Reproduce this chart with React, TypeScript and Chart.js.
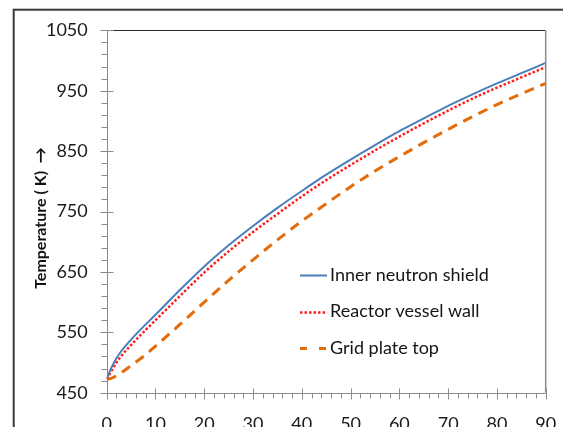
import React, { useEffect, useRef } from "react";
import { Chart, registerables } from "chart.js";

Chart.register(...registerables);

const timeValues = [0, 1, 2, 3, 5, 7.5, 10, 15, 20, 25, 30, 35, 40, 45, 50, 55, 60, 65, 70, 75, 80, 85, 90];
const innerNeutronShield = [473, 492, 507, 519, 538, 559, 579, 620, 659, 694, 726, 756, 784, 811, 836, 860, 883, 904, 925, 944, 962, 979, 996];
const reactorVesselWall = [473, 486, 500, 511, 529, 550, 570, 610, 649, 684, 716, 746, 775, 802, 827, 851, 874, 896, 917, 937, 955, 972, 989];
const gridPlateTop = [472, 474, 478, 483, 495, 510, 527, 563, 600, 636, 670, 703, 734, 763, 791, 817, 841, 864, 886, 907, 927, 945, 962];
const seriesNames = ["Inner neutron shield", "Reactor vessel wall", "Grid plate top"];
const yTickValues = [450, 550, 650, 750, 850, 950, 1050];
const xTickValues = [0, 10, 20, 30, 40, 50, 60, 70, 80, 90];
const yMinorStep = 20;
const xMinorStep = 2;
const yAxisTitle = "Temperature ( K)  \u2192";

const FONT = "Lato, 'Open Sans', sans-serif";

const decorPlugin = {
  id: "decor",
  beforeDraw(chart: any) {
    const { ctx } = chart;
    ctx.save();
    ctx.fillStyle = "#ffffff";
    ctx.fillRect(0, 0, chart.width, chart.height);
    ctx.strokeStyle = "#3a3a3a";
    ctx.lineWidth = 2;
    ctx.strokeRect(13.7, 9.7, chart.width + 40, chart.height + 40);
    ctx.restore();
  },
  beforeDatasetsDraw(chart: any) {
    const { ctx, chartArea: ca, scales } = chart;
    const xs = scales.x;
    const ys = scales.y;
    ctx.save();
    ctx.lineWidth = 1;
    ctx.strokeStyle = "#2a2a2a";
    ctx.beginPath();
    ctx.moveTo(ca.left, Math.round(ca.top) + 0.5);
    ctx.lineTo(ca.right, Math.round(ca.top) + 0.5);
    ctx.stroke();
    ctx.strokeStyle = "#8c8c8c";
    ctx.lineWidth = 1.5;
    ctx.beginPath();
    ctx.moveTo(ca.right, ca.top);
    ctx.lineTo(ca.right, ca.bottom);
    ctx.stroke();

    const gray = "#8a8a8a";
    ctx.strokeStyle = gray;
    ctx.lineWidth = 1;
    const ax = Math.round(ca.left) + 0.5;
    const ay = Math.round(ca.bottom) + 0.5;
    ctx.beginPath();
    ctx.moveTo(ax, ca.top);
    ctx.lineTo(ax, ay);
    ctx.stroke();
    ctx.beginPath();
    ctx.moveTo(ax, ay);
    ctx.lineTo(ca.right, ay);
    ctx.stroke();

    for (let v = ys.min; v <= ys.max + 0.001; v += yMinorStep) {
      const py = Math.round(ys.getPixelForValue(v)) + 0.5;
      ctx.beginPath();
      ctx.moveTo(ax - 6, py);
      ctx.lineTo(ax, py);
      ctx.stroke();
    }
    for (const v of yTickValues) {
      const py = Math.round(ys.getPixelForValue(v)) + 0.5;
      ctx.beginPath();
      ctx.moveTo(ax - 7, py);
      ctx.lineTo(ax + 6, py);
      ctx.stroke();
    }
    for (let v = xs.min; v <= xs.max + 0.001; v += xMinorStep) {
      const px = Math.round(xs.getPixelForValue(v)) + 0.5;
      ctx.beginPath();
      ctx.moveTo(px, ay);
      ctx.lineTo(px, ay + 5);
      ctx.stroke();
    }
    for (const v of xTickValues) {
      const px = Math.round(xs.getPixelForValue(v)) + 0.5;
      ctx.beginPath();
      ctx.moveTo(px, ay - 5);
      ctx.lineTo(px, ay + 6);
      ctx.stroke();
    }
    ctx.restore();
  },
  afterDatasetsDraw(chart: any) {
    const { ctx } = chart;
    ctx.save();
    ctx.translate(41, 218);
    ctx.rotate(-Math.PI / 2);
    ctx.fillStyle = "#111111";
    ctx.font = `bold 16px ${FONT}`;
    ctx.textAlign = "center";
    ctx.textBaseline = "middle";
    ctx.fillText(yAxisTitle, 0, 0);
    ctx.restore();

    ctx.save();
    chart.data.datasets.forEach((ds: any, i: number) => {
      const cy = 275 + 36.5 * i;
      ctx.strokeStyle = ds.borderColor;
      ctx.lineWidth = ds.borderWidth;
      if (i === 2) ctx.setLineDash([7, 12]);
      else ctx.setLineDash(ds.borderDash || []);
      ctx.beginPath();
      ctx.moveTo(300, Math.round(cy) + 0.5);
      ctx.lineTo(i === 1 ? 325 : 327, Math.round(cy) + 0.5);
      ctx.stroke();
      ctx.setLineDash([]);
      ctx.fillStyle = "#151515";
      ctx.font = `18px ${FONT}`;
      ctx.textAlign = "left";
      ctx.textBaseline = "middle";
      ctx.fillText(ds.label, 330, cy);
    });
    ctx.restore();
  },
};

export default function App() {
  const canvasRef = useRef<HTMLCanvasElement | null>(null);

  useEffect(() => {
    if (!canvasRef.current) return;
    const toPoints = (vals: number[]) => timeValues.map((t, i) => ({ x: t, y: vals[i] }));
    const chart = new Chart(canvasRef.current, {
      type: "line",
      data: {
        datasets: [
          {
            label: seriesNames[0],
            data: toPoints(innerNeutronShield),
            borderColor: "#4a7ebb",
            borderWidth: 2,
            pointRadius: 0,
            fill: false,
            cubicInterpolationMode: "monotone",
          },
          {
            label: seriesNames[1],
            data: toPoints(reactorVesselWall),
            borderColor: "#ff2020",
            borderWidth: 2.5,
            borderDash: [2.5, 2],
            pointRadius: 0,
            fill: false,
            cubicInterpolationMode: "monotone",
          },
          {
            label: seriesNames[2],
            data: toPoints(gridPlateTop),
            borderColor: "#e46c0a",
            borderWidth: 3,
            borderDash: [10, 7],
            pointRadius: 0,
            fill: false,
            cubicInterpolationMode: "monotone",
          },
        ],
      },
      options: {
        animation: false,
        responsive: false,
        devicePixelRatio: 1,
        layout: { padding: { left: 0, top: 30.3, right: 17.3, bottom: 0 } },
        plugins: {
          legend: { display: false },
          tooltip: { enabled: false },
        },
        scales: {
          x: {
            type: "linear",
            min: 0,
            max: 90,
            afterBuildTicks: (s: any) => {
              s.ticks = xTickValues.map((v) => ({ value: v }));
            },
            afterFit: (s: any) => {
              s.height = 34.3;
              s.paddingLeft = 0;
              s.paddingRight = 0;
            },
            grid: { display: false, drawTicks: false },
            border: { display: false },
            ticks: {
              padding: 21,
              autoSkip: false,
              maxRotation: 0,
              color: "#1a1a1a",
              font: { family: FONT, size: 18 },
              callback: (v: any) => String(v),
            },
          },
          y: {
            type: "linear",
            min: 450,
            max: 1050,
            afterBuildTicks: (s: any) => {
              s.ticks = yTickValues.map((v) => ({ value: v }));
            },
            afterFit: (s: any) => {
              s.width = 106.7;
              s.paddingTop = 0;
              s.paddingBottom = 0;
            },
            grid: { display: false, drawTicks: false },
            border: { display: false },
            ticks: {
              padding: 19,
              autoSkip: false,
              color: "#1a1a1a",
              font: { family: FONT, size: 18 },
              callback: (v: any) => String(v),
            },
          },
        },
      },
      plugins: [decorPlugin],
    } as any);
    return () => chart.destroy();
  }, []);

  return (
    <div style={{ position: "absolute", left: 0, top: 0, width: 563, height: 427, overflow: "hidden" }}>
      <canvas ref={canvasRef} width={563} height={427} style={{ display: "block" }} />
    </div>
  );
}
